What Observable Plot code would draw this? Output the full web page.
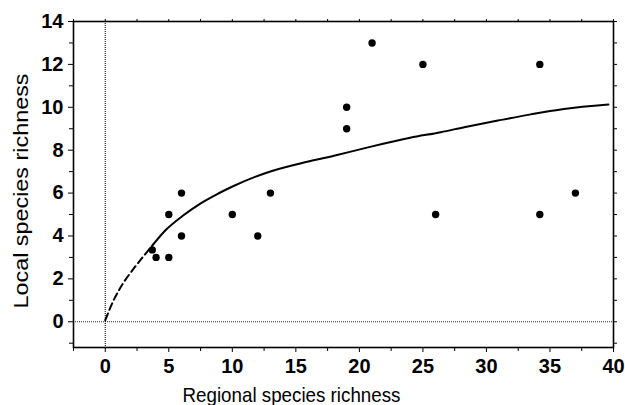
<!DOCTYPE html>
<html>
<head>
<meta charset="utf-8">
<script src="https://cdn.jsdelivr.net/npm/d3@7"></script>
<script src="https://cdn.jsdelivr.net/npm/@observablehq/plot@0.6"></script>
<style>
  html, body { margin: 0; padding: 0; background: #fff; }
  svg { display: block; }
</style>
</head>
<body>
<div id="chart"></div>
<script>
// Observed sites
const regional = [3.7, 4, 5, 5, 6, 6, 10, 12, 13, 19, 19, 21, 25, 26, 34.2, 34.2, 37];
const local    = [3.35, 3, 3, 5, 4, 6, 5, 4, 6, 9, 10, 13, 12, 5, 12, 5, 6];

// Fitted curve (dashed part = extrapolation toward origin)
const curveX = [0, 0.6, 1.4, 2.2, 3.0, 3.76, 4.8, 6.1, 7.45, 8.9, 10.1, 12.7, 15.35, 18.0, 20.6, 24.0, 26.4, 28.25, 30.9, 33.5, 36.1, 39.6];
const curveY = [0.08, 0.93, 1.79, 2.45, 3.05, 3.6, 4.3, 4.94, 5.5, 5.98, 6.33, 6.95, 7.38, 7.74, 8.12, 8.58, 8.84, 9.07, 9.38, 9.67, 9.92, 10.13];
const dashedEnd = 5; // index where the dashed part meets the solid part

// Tick values
const xMajor = [0, 5, 10, 15, 20, 25, 30, 35, 40];
const xMinor = [-2.5, 2.5, 7.5, 12.5, 17.5, 22.5, 27.5, 32.5, 37.5];
const yMajor = [0, 2, 4, 6, 8, 10, 12, 14];
const yMinor = [-1, 1, 3, 5, 7, 9, 11, 13];

const xTitle = "Regional species richness";
const yTitle = "Local species richness";

const points = regional.map((x, i) => ({x, y: local[i]}));
const curve = curveX.map((x, i) => ({x, y: curveY[i]}));
const dashedPart = curve.slice(0, dashedEnd + 1);
const solidPart = curve.slice(dashedEnd);

const font = "'Liberation Sans', Arial, Helvetica, sans-serif";

const chart = Plot.plot({
  width: 625,
  height: 405,
  marginLeft: 73,
  marginRight: 12,
  marginTop: 21,
  marginBottom: 58,
  style: {fontFamily: font, color: "#000", background: "#fff"},
  x: {domain: [-2.5, 40]},
  y: {domain: [-1.2, 14]},
  marks: [
    Plot.ruleX([0], {stroke: "#222", strokeWidth: 1.2, strokeDasharray: "1,1"}),
    Plot.ruleY([0], {stroke: "#222", strokeWidth: 1.2, strokeDasharray: "1,1"}),
    Plot.frame({stroke: "#000", strokeWidth: 1.6}),
    Plot.axisX({ticks: xMajor, tickSize: 5, tickPadding: 6, fontSize: 20, fontWeight: "bold", label: null}),
    Plot.axisX({ticks: xMinor, tickSize: 4, text: null, label: null}),
    Plot.axisX({anchor: "top", ticks: xMajor.concat(xMinor), tickSize: 3, text: null, label: null}),
    Plot.axisY({ticks: yMajor, tickSize: 5, tickPadding: 5, fontSize: 20, fontWeight: "bold", label: null}),
    Plot.axisY({ticks: yMinor, tickSize: 4, text: null, label: null}),
    Plot.axisY({anchor: "right", ticks: yMajor.concat(yMinor), tickSize: 3, text: null, label: null}),
    Plot.line(dashedPart, {x: "x", y: "y", stroke: "#000", strokeWidth: 2, strokeDasharray: "7,4", curve: "monotone-x"}),
    Plot.line(solidPart, {x: "x", y: "y", stroke: "#000", strokeWidth: 2, curve: "monotone-x"}),
    Plot.dot(points, {x: "x", y: "y", r: 3.7, fill: "#000", stroke: "none"}),
    Plot.text([xTitle], {frameAnchor: "bottom", dx: -52, dy: 48, fontSize: 21, fill: "#000", textAnchor: "middle", lineAnchor: "middle"}),
    Plot.text([yTitle], {frameAnchor: "left", dx: -52.5, dy: 6.5, rotate: -90, fontSize: 21, fill: "#000", textAnchor: "middle", lineAnchor: "middle"})
  ]
});

// match the stretched title lengths of the original
const svg = d3.select(chart);
svg.selectAll("text").filter(function() { return this.textContent === xTitle; })
  .attr("textLength", 218).attr("lengthAdjust", "spacingAndGlyphs");
svg.selectAll("text").filter(function() { return this.textContent === yTitle; })
  .attr("textLength", 235).attr("lengthAdjust", "spacingAndGlyphs");

document.getElementById("chart").appendChild(chart);
</script>
</body>
</html>
